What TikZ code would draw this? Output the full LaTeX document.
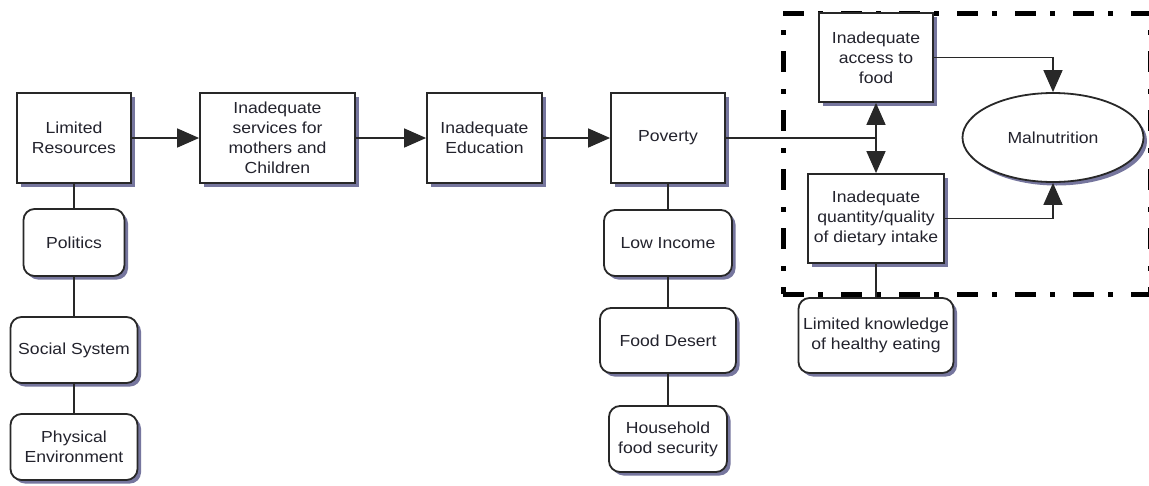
\documentclass[tikz,border=0pt]{standalone}
\usepackage{fontspec}
\setmainfont[FakeStretch=1.1]{Liberation Sans}
\usetikzlibrary{arrows.meta,shadows,shapes.geometric}
\definecolor{shad}{RGB}{118,118,158}
\definecolor{txt}{RGB}{35,35,45}
\definecolor{edge}{RGB}{40,40,40}
\begin{document}
\begin{tikzpicture}[x=1pt,y=-1pt,
  base/.style={draw=edge, line width=1.8pt, fill=white, align=center, inner sep=0pt,
    font=\fontsize{16}{20}\selectfont, text=txt,
    drop shadow={shadow xshift=3.5pt, shadow yshift=-3.5pt, fill=shad, opacity=1}},
  sqbox/.style={base, rectangle},
  rbox/.style={base, rectangle, rounded corners=11pt},
  ell/.style={base, ellipse},
  conn/.style={draw=edge, line width=1.5pt},
  arr/.style={conn, -{Triangle[length=22pt,width=19pt]}},
  darr/.style={conn, {Triangle[length=22pt,width=19pt]}-{Triangle[length=22pt,width=19pt]}},
  frame/.style={line width=5pt, black}
]
\useasboundingbox (0,0) rectangle (1149,485);
\fill[white] (0,0) rectangle (1149,485);

% dashed frame
\draw[frame, dash pattern=on 21pt off 14pt on 5pt off 18pt] (783,13) -- (1155,13);
\draw[frame, dash pattern=on 21pt off 14pt on 5pt off 18pt] (783,294) -- (1155,294);
\draw[frame, dash pattern=on 5pt off 16pt on 21pt off 17pt, dash phase=42pt] (783,13) -- (783,294);
\draw[frame, dash pattern=on 5pt off 16pt on 21pt off 17pt, dash phase=42pt] (1150.5,13) -- (1150.5,294);

% main row
\node[sqbox, minimum width=114pt, minimum height=90pt] (lr) at (74,138) {Limited\\Resources};
\node[sqbox, minimum width=155pt, minimum height=90pt] (svc) at (277.5,138) {Inadequate\\services for\\mothers and\\Children};
\node[sqbox, minimum width=115pt, minimum height=90pt] (edu) at (484.5,138) {Inadequate\\Education};
\node[sqbox, minimum width=114pt, minimum height=90pt] (pov) at (668,138) {Poverty};

% left column
\node[rbox, minimum width=101pt, minimum height=67pt] (pol) at (74,242.5) {Politics};
\node[rbox, minimum width=127pt, minimum height=66pt] (soc) at (74,350) {Social System};
\node[rbox, minimum width=127pt, minimum height=66pt] (phy) at (74,447) {Physical\\Environment};

% poverty column
\node[rbox, minimum width=128pt, minimum height=66pt] (low) at (668,243) {Low Income};
\node[rbox, minimum width=136pt, minimum height=65pt] (des) at (668,340.5) {Food Desert};
\node[rbox, minimum width=118pt, minimum height=66pt] (hou) at (668,439) {Household\\food security};

% right part
\node[sqbox, minimum width=114pt, minimum height=89pt] (acc) at (876,57.5) {Inadequate\\access to\\food};
\node[sqbox, minimum width=136pt, minimum height=89pt] (qty) at (876,218.5) {Inadequate\\quantity/quality\\of dietary intake};
\node[rbox, minimum width=155pt, minimum height=75pt] (kno) at (876,335.5) {Limited knowledge\\of healthy eating};
\node[ell, minimum width=181pt, minimum height=89pt] (mal) at (1053,137.5) {Malnutrition};

\coordinate (j) at (acc.south |- pov.east);

% connectors
\draw[arr] (lr) -- (svc);
\draw[arr] (svc) -- (edu);
\draw[arr] (edu) -- (pov);
\draw[conn] (pov.east) -- (j);
\draw[darr] (acc.south) -- (qty.north);
\draw[arr] (acc.east) -| (mal.north);
\draw[arr] (qty.east) -| (mal.south);
\draw[conn] (qty.south) -- (kno.north);
\draw[conn] (lr.south) -- (pol.north);
\draw[conn] (pol.south) -- (soc.north);
\draw[conn] (soc.south) -- (phy.north);
\draw[conn] (pov.south) -- (low.north);
\draw[conn] (low.south) -- (des.north);
\draw[conn] (des.south) -- (hou.north);
\end{tikzpicture}
\end{document}
